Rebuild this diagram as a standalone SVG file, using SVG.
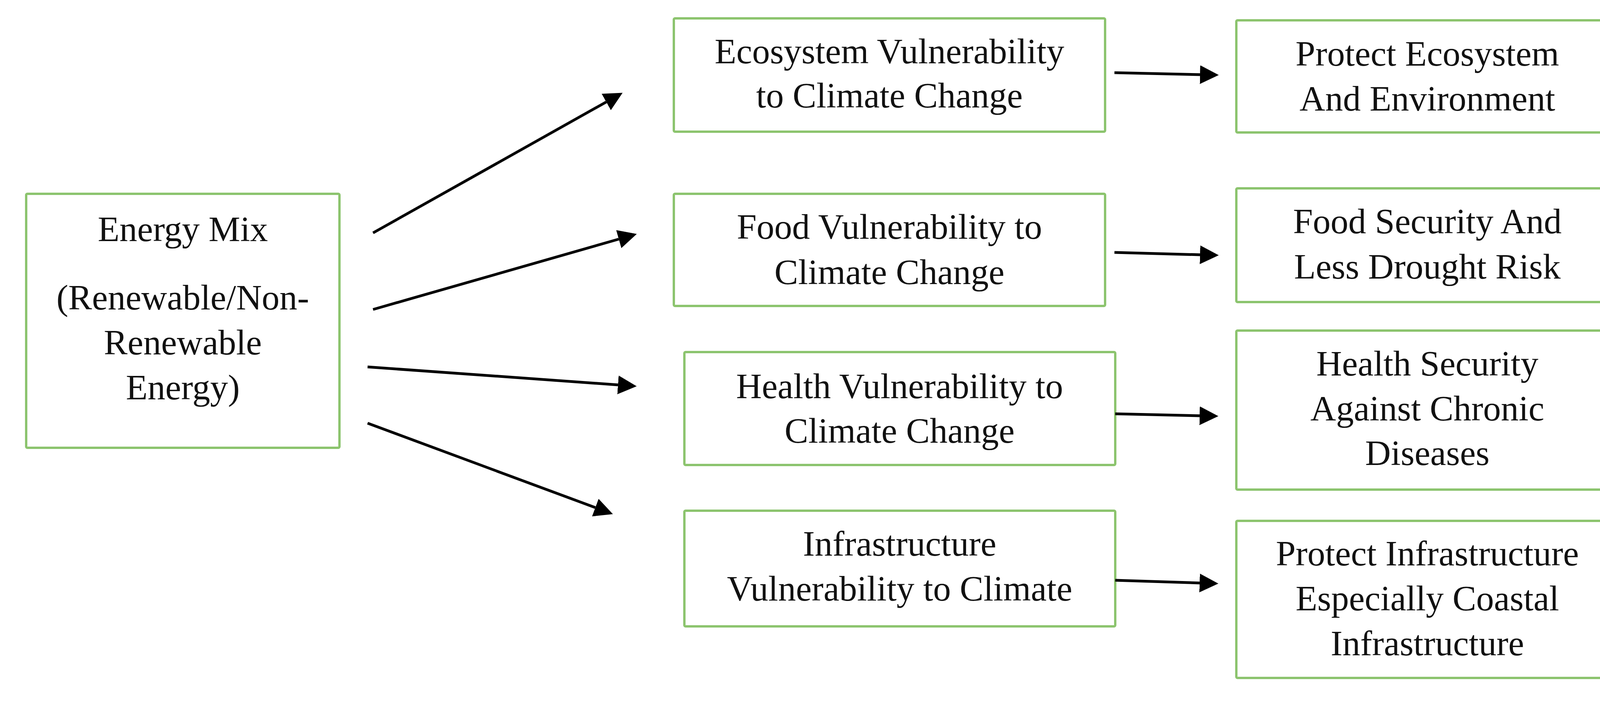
<svg xmlns="http://www.w3.org/2000/svg" width="4198" height="1794" viewBox="0 0 4198 1794">
<style>
.box{fill:#ffffff;stroke:#8cc46e;stroke-width:6}
.lbl{font-family:"Liberation Serif","Times New Roman",serif;font-size:91px;fill:#111111;text-anchor:middle}
.arr{stroke:#000000;stroke-width:7;fill:none;marker-end:url(#ah)}
</style>
<defs>
<marker id="ah" markerUnits="userSpaceOnUse" markerWidth="50" markerHeight="50" refX="0" refY="24" orient="auto" viewBox="0 0 50 50">
<path d="M0,0 L48,24 L0,48 Z" fill="#000000"/>
</marker>
</defs>
<rect width="4198" height="1794" fill="#ffffff"/>
<g id="energy-mix">
<rect class="box" x="67" y="496" width="802" height="650" rx="3"/>
<text class="lbl" x="468" y="617">Energy Mix</text>
<text class="lbl" x="468" y="792">(Renewable/Non-</text>
<text class="lbl" x="468" y="907">Renewable</text>
<text class="lbl" x="468" y="1022">Energy)</text>
</g>
<g id="ecosystem-vulnerability">
<rect class="box" x="1725" y="47" width="1104" height="290" rx="3"/>
<text class="lbl" x="2277" y="162">Ecosystem Vulnerability</text>
<text class="lbl" x="2277" y="275">to Climate Change</text>
</g>
<g id="food-vulnerability">
<rect class="box" x="1725" y="496" width="1104" height="287" rx="3"/>
<text class="lbl" x="2277" y="611">Food Vulnerability to</text>
<text class="lbl" x="2277" y="727">Climate Change</text>
</g>
<g id="health-vulnerability">
<rect class="box" x="1752" y="901" width="1103" height="289" rx="3"/>
<text class="lbl" x="2303" y="1019">Health Vulnerability to</text>
<text class="lbl" x="2303" y="1133">Climate Change</text>
</g>
<g id="infrastructure-vulnerability">
<rect class="box" x="1752" y="1307" width="1103" height="296" rx="3"/>
<text class="lbl" x="2303" y="1422">Infrastructure</text>
<text class="lbl" x="2303" y="1537">Vulnerability to Climate</text>
</g>
<g id="protect-ecosystem">
<rect class="box" x="3165" y="52" width="978" height="287" rx="3"/>
<text class="lbl" x="3654" y="168">Protect Ecosystem</text>
<text class="lbl" x="3654" y="283">And Environment</text>
</g>
<g id="food-security">
<rect class="box" x="3165" y="482" width="978" height="291" rx="3"/>
<text class="lbl" x="3654" y="597">Food Security And</text>
<text class="lbl" x="3654" y="713">Less Drought Risk</text>
</g>
<g id="health-security">
<rect class="box" x="3165" y="846" width="978" height="407" rx="3"/>
<text class="lbl" x="3654" y="961">Health Security</text>
<text class="lbl" x="3654" y="1076">Against Chronic</text>
<text class="lbl" x="3654" y="1190">Diseases</text>
</g>
<g id="protect-infrastructure">
<rect class="box" x="3165" y="1333" width="978" height="402" rx="3"/>
<text class="lbl" x="3654" y="1447">Protect Infrastructure</text>
<text class="lbl" x="3654" y="1562">Especially Coastal</text>
<text class="lbl" x="3654" y="1677">Infrastructure</text>
</g>
<g id="connectors">
<line class="arr" x1="955" y1="596" x2="1552" y2="261"/>
<line class="arr" x1="955" y1="792" x2="1584" y2="612"/>
<line class="arr" x1="941" y1="939" x2="1582" y2="985"/>
<line class="arr" x1="941" y1="1083" x2="1524" y2="1299"/>
<line class="arr" x1="2853" y1="186" x2="3072" y2="191"/>
<line class="arr" x1="2853" y1="646" x2="3072" y2="652"/>
<line class="arr" x1="2855" y1="1059" x2="3071" y2="1064"/>
<line class="arr" x1="2855" y1="1485" x2="3071" y2="1492"/>
</g>
</svg>
